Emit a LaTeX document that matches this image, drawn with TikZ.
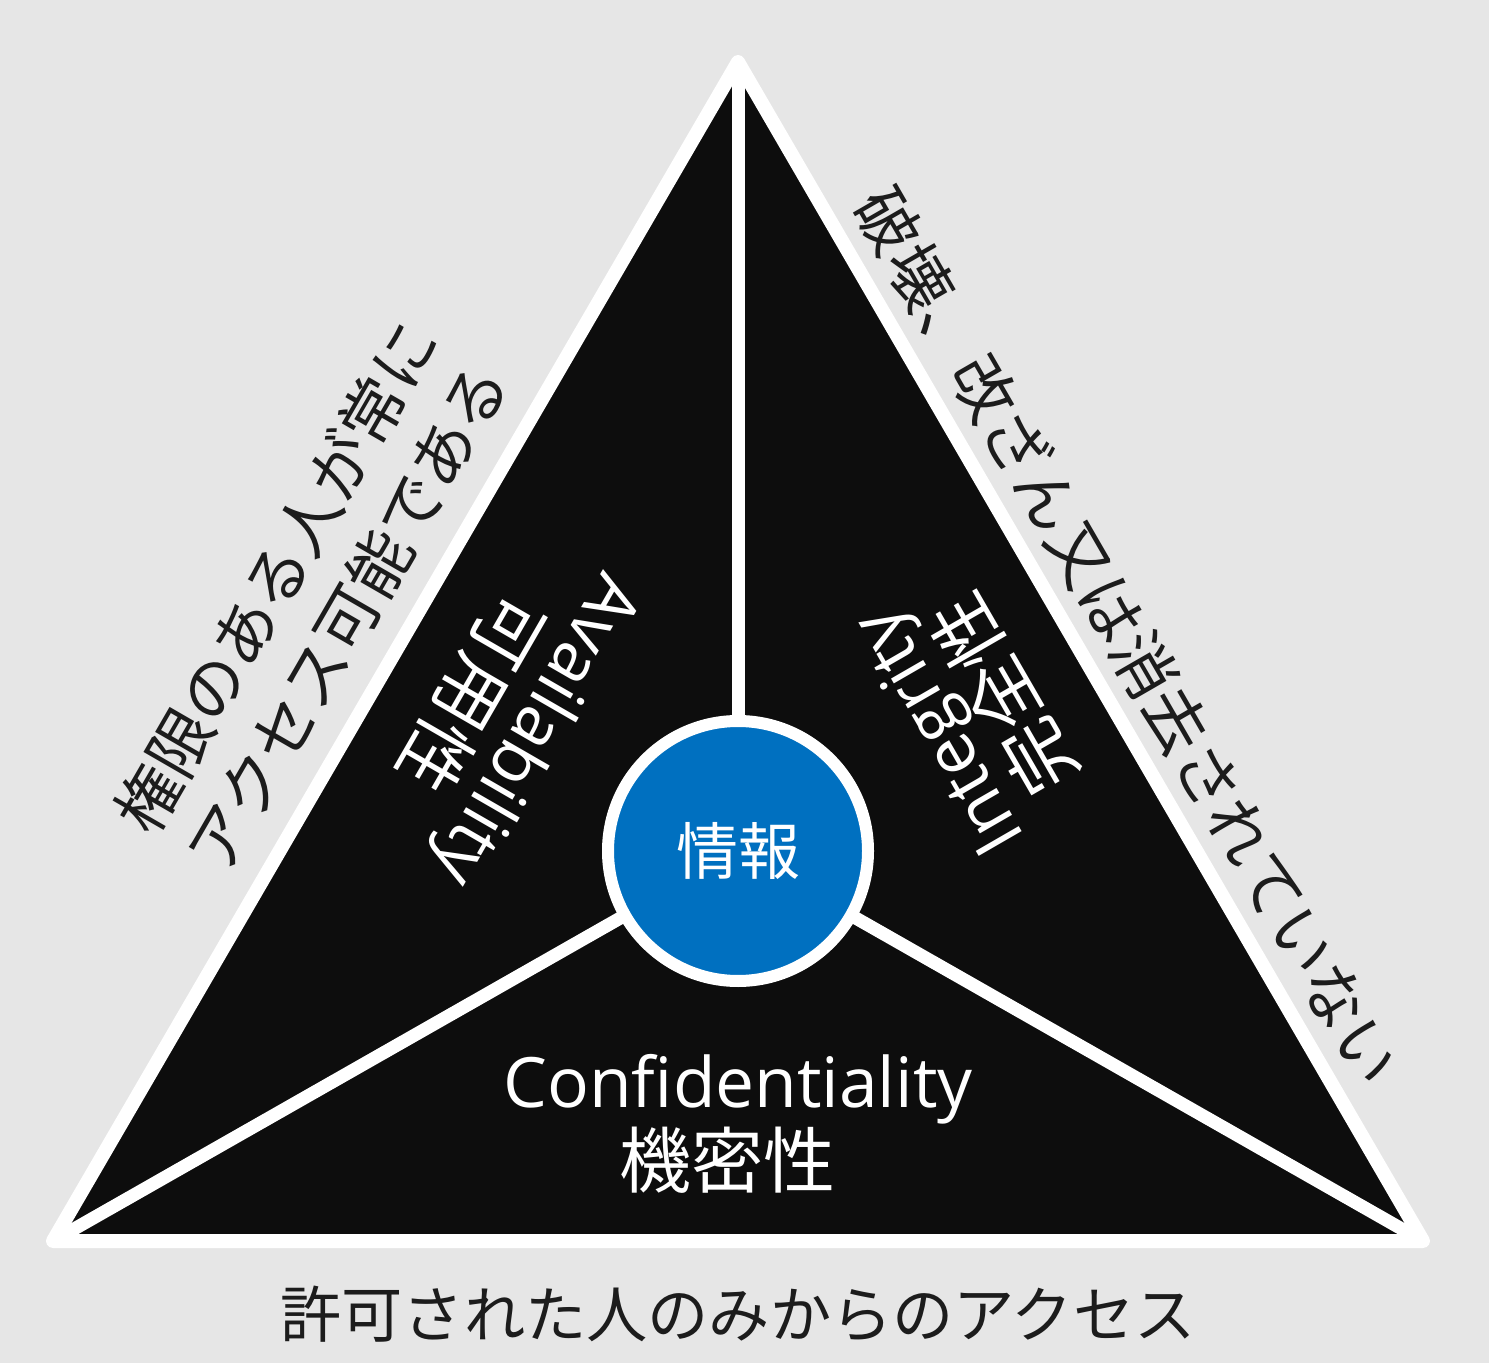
\documentclass[tikz,border=0pt]{standalone}
\usepackage{fontspec}
\setmainfont{Noto Sans CJK JP}
\newfontfamily\latinfont[Scale=0.965]{Open Sans}
\definecolor{paper}{HTML}{E6E6E6}
\definecolor{ink}{HTML}{0D0D0D}
\definecolor{corefill}{HTML}{0070C0}
\definecolor{labelink}{HTML}{1C1C1C}
\begin{document}
\begin{tikzpicture}[x=0.5pt,y=-0.5pt,
  tri/.style={fill=ink,draw=white,line width=7pt,line join=round},
  spoke/.style={draw=white,line width=6.5pt},
  core/.style={circle,fill=corefill,draw=white,line width=6pt,minimum size=130pt,inner sep=0pt,
    text=white,font=\fontsize{31pt}{31pt}\selectfont},
  pillar/.style={text=white,align=center,inner sep=0pt,font=\fontsize{36pt}{35pt}\selectfont},
  edgelabel/.style={text=labelink,align=center,inner sep=0pt,font=\fontsize{32pt}{41pt}\selectfont}]
  % canvas
  \fill[paper] (0,0) rectangle (1489,1363);
  \useasboundingbox (0,0) rectangle (1489,1363);

  % triangle corners and hub
  \coordinate (apex) at (738,62);
  \coordinate (bl) at (53,1241);
  \coordinate (br) at (1423,1241);
  \coordinate (hub) at (738,851);

  \draw[tri] (apex) -- (bl) -- (br) -- cycle;
  \draw[spoke] (hub) -- (apex);
  \draw[spoke] (hub) -- (bl);
  \draw[spoke] (hub) -- (br);

  % central circle
  \node[core] (info) at (hub) {情報};

  % the three properties inside the triangle
  \node[pillar,rotate=240] (avail) at (503,711) {{\latinfont Availability}\\可用性};
  \node[pillar,rotate=120] (integ) at (973,712) {{\latinfont Integrity}\\完全性};
  \node[pillar,anchor=base] (confEn) at (738,1107) {\latinfont Confidentiality};
  \node[pillar,anchor=base] (confJa) at (727,1187) {機密性};

  % descriptions along the outer edges
  \node[edgelabel,rotate=60] (availNote) at (312,597) {権限のある人が常に\\アクセス可能である};
  \node[edgelabel,rotate=-60] (integNote) at (1128,636) {破壊、改ざん又は消去されていない};
  \node[edgelabel,font=\fontsize{30.6pt}{36pt}\selectfont] (confNote) at (738,1314) {許可された人のみからのアクセス};
\end{tikzpicture}
\end{document}
